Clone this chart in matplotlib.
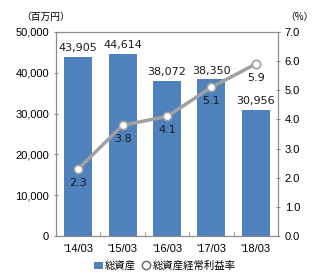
import numpy as np
import matplotlib
matplotlib.use("Agg")
import matplotlib.pyplot as plt
from matplotlib.lines import Line2D
from matplotlib.patches import Patch

plt.rcParams['font.family'] = ['Liberation Sans', 'Noto Sans CJK JP', 'DejaVu Sans']

years = ["'14/03", "'15/03", "'16/03", "'17/03", "'18/03"]
total_assets = [43905, 44614, 38072, 38350, 30956]
roa = [2.3, 3.8, 4.1, 5.1, 5.9]

bar_color = '#4F81BD'
line_color = '#A0A0A0'
frame_color = '#8C8C8C'

fig = plt.figure(figsize=(3.3, 2.8), dpi=100)
ax = fig.add_axes([0.170, 0.157, 0.672, 0.729])
x = np.arange(len(years))

ax.bar(x, total_assets, width=0.63, color=bar_color, zorder=2)
for xi, v in zip(x, total_assets):
    ax.text(xi, v + 900, f"{v:,}", ha='center', va='bottom', fontsize=8,
            family='DejaVu Sans', color='#1a1a1a')

ax.set_xlim(-0.5, len(years) - 0.5)
ax.set_ylim(0, 50000)
ax.set_yticks(np.arange(0, 50001, 10000))
ax.set_yticklabels([f"{t:,}" for t in range(0, 50001, 10000)], fontsize=8)
ax.set_xticks(x)
ax.set_xticklabels(years, fontsize=8)
ax.tick_params(axis='x', length=0, pad=6)
ax.set_xticks(np.arange(0.5, len(years) - 1, 1), minor=True)
ax.tick_params(axis='x', which='minor', direction='in', length=3, color=frame_color)
ax.tick_params(axis='y', length=3, color=frame_color, direction='inout')
for s in ax.spines.values():
    s.set_color(frame_color)
    s.set_linewidth(0.8)

ax2 = ax.twinx()
ax2.plot(x, roa, color=line_color, lw=2.5, marker='o', markersize=6,
         markerfacecolor='white', markeredgecolor=line_color, markeredgewidth=1.2, zorder=3)
for xi, v in zip(x, roa):
    ax2.text(xi, v - 0.3, f"{v:.1f}", ha='center', va='top', fontsize=8,
             family='DejaVu Sans', color='#1a1a1a')
ax2.set_ylim(0, 7)
ax2.set_yticks(np.arange(0, 7.01, 1))
ax2.set_yticklabels([f"{t:.1f}" for t in np.arange(0, 7.01, 1)], fontsize=8)
ax2.tick_params(axis='y', length=3, color=frame_color, direction='inout')
for s in ax2.spines.values():
    s.set_color(frame_color)
    s.set_linewidth(0.8)

fig.text(0.065, 0.94, "（百万円）", fontsize=7, family=['Noto Sans CJK JP'], va='center')
fig.text(0.865, 0.94, "（%）", fontsize=7, family=['Noto Sans CJK JP'], va='center')

handles = [Patch(facecolor=bar_color, edgecolor='none'),
           Line2D([], [], linestyle='none', marker='o', markersize=6,
                  markerfacecolor='white', markeredgecolor='#666666')]
fig.legend(handles, ["総資産", "総資産経常利益率"], loc='center', bbox_to_anchor=(0.5, 0.05),
           ncol=2, frameon=False, prop={'family': ['Noto Sans CJK JP'], 'size': 7.5},
           handlelength=0.8, handletextpad=0.2, columnspacing=0.6)

fig.savefig("out.png", dpi=100)
